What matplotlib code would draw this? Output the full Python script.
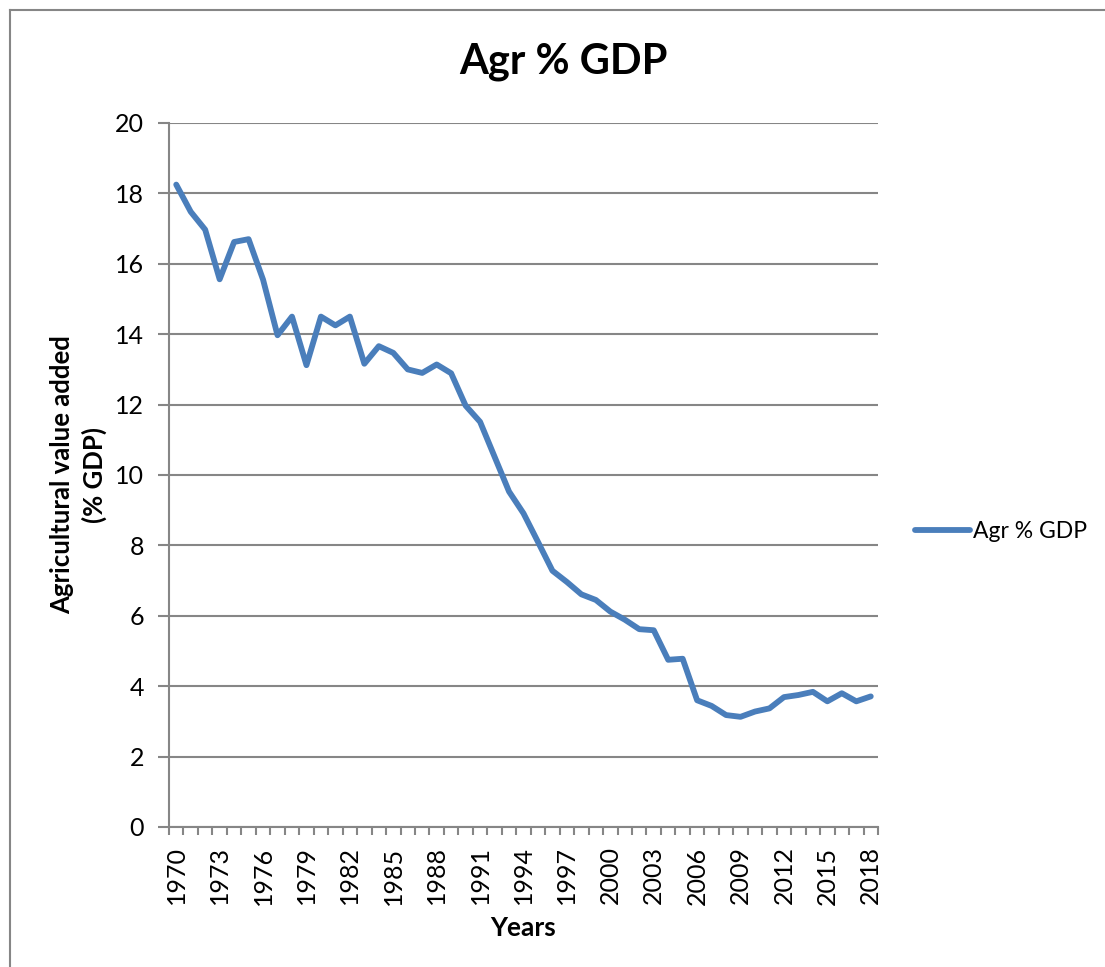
import numpy as np
import matplotlib
matplotlib.use("Agg")
import matplotlib.pyplot as plt
from matplotlib.lines import Line2D

plt.rcParams['font.family'] = ['Lato', 'DejaVu Sans']

# Agricultural value added (% of GDP)
years = list(range(1970, 2019))
agr_gdp = [18.25, 17.48, 16.97, 15.56, 16.62, 16.70, 15.55, 13.97, 14.50, 13.12,
           14.50, 14.25, 14.50, 13.16, 13.66, 13.47, 13.00, 12.90, 13.14, 12.89,
           11.97, 11.51, 10.52, 9.53, 8.91, 8.10, 7.28, 6.96, 6.61, 6.45,
           6.12, 5.89, 5.62, 5.59, 4.75, 4.78, 3.60, 3.44, 3.18, 3.13,
           3.28, 3.37, 3.69, 3.75, 3.84, 3.57, 3.80, 3.57, 3.71]
label_years = years[::3]

line_col = '#4A7EBB'
grid_col = '#868686'

fig = plt.figure(figsize=(11.05, 9.67), dpi=100)
ax = fig.add_axes([169/1105, 1 - 827/967, (878 - 169)/1105, (827 - 123)/967])

x = np.arange(len(years))
ax.plot(x, agr_gdp, color=line_col, lw=4.2, solid_joinstyle='round',
        solid_capstyle='round', label='Agr % GDP', clip_on=False)

ax.set_xlim(-0.5, len(years) - 0.5)
ax.set_ylim(0, 20)
ax.set_yticks(np.arange(0, 21, 2))
ax.yaxis.grid(True, color=grid_col, lw=1.5)
ax.set_axisbelow(True)

# category boundaries get tick marks, every third year gets a label
ax.set_xticks(np.arange(-0.5, len(years)), labels=[])
ax.set_xticks(x[::3], labels=[str(y) for y in label_years], minor=True)
ax.tick_params(axis='x', which='major', length=6, width=1.5, color=grid_col)
ax.tick_params(axis='x', which='minor', length=0, pad=14, labelrotation=90,
               labelsize=18)
ax.tick_params(axis='y', length=8, width=1.5, color=grid_col, labelsize=18, pad=10)

for s in ['top', 'right']:
    ax.spines[s].set_visible(False)
for s in ['left', 'bottom']:
    ax.spines[s].set_color(grid_col)
    ax.spines[s].set_linewidth(1.5)

fig.text(563/1105, 1 - 62/967, 'Agr % GDP', ha='center', va='center',
         fontsize=30, fontweight='bold')
ax.set_xlabel('Years', fontsize=19, fontweight='bold', labelpad=8)
fig.text(79/1105, 1 - 475/967, 'Agricultural value added\n(% GDP)', rotation=90,
         ha='center', va='center', fontsize=18.5, fontweight='bold',
         linespacing=1.35)

ax.legend(loc='center left', bbox_to_anchor=(915/1105, 1 - 532/967),
          bbox_transform=fig.transFigure, frameon=False, fontsize=16.5,
          borderpad=0, borderaxespad=0, handlelength=2.4, handletextpad=0.12)

# outer chart frame (only left and top edges are visible in the crop)
fig.add_artist(Line2D([10/1105, 10/1105], [0, 1 - 10/967], color=grid_col, lw=1.5,
                      transform=fig.transFigure))
fig.add_artist(Line2D([10/1105, 1], [1 - 10/967, 1 - 10/967], color=grid_col, lw=1.5,
                      transform=fig.transFigure))

fig.savefig('out.png', dpi=100)
